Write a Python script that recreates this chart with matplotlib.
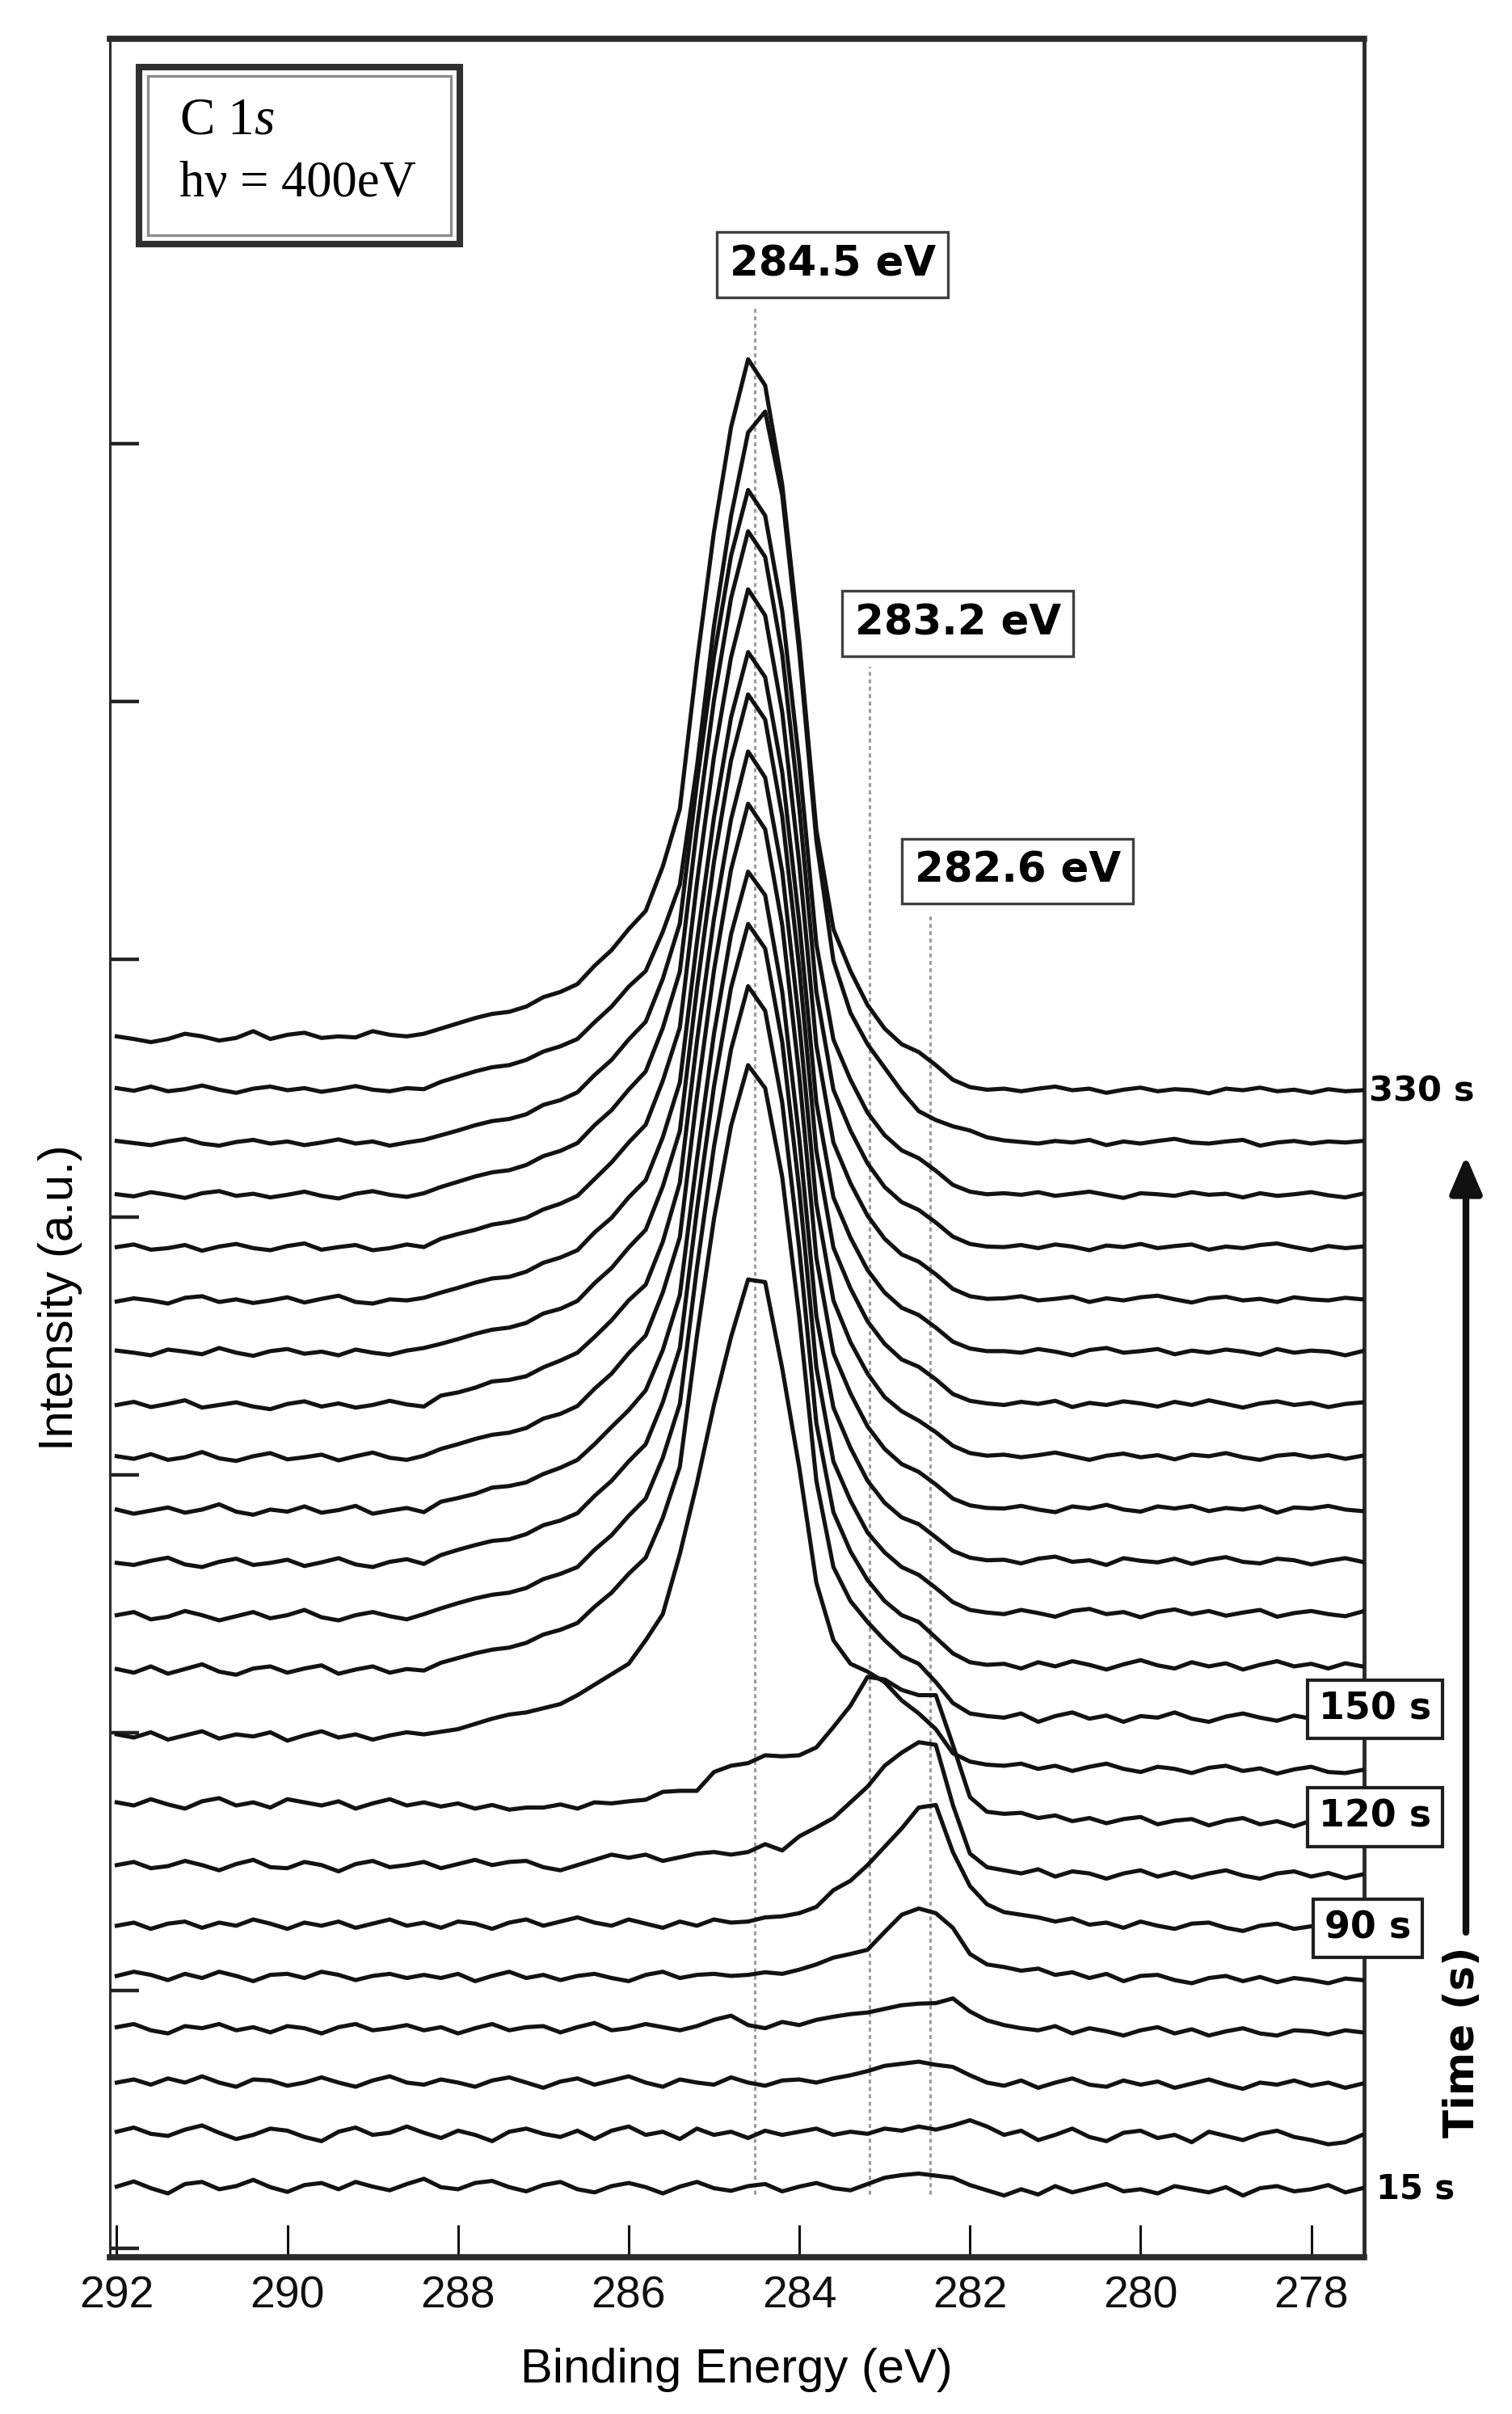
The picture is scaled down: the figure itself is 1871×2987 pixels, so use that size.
import numpy as np
import matplotlib
matplotlib.use("Agg")
import matplotlib.pyplot as plt
from matplotlib.patches import Rectangle

plt.rcParams['mathtext.fontset'] = 'custom'
plt.rcParams['mathtext.rm'] = 'Liberation Serif'
plt.rcParams['mathtext.it'] = 'Liberation Serif:italic'

# ---------------- data ----------------
energy = np.linspace(292.0, 277.4, 74)          # binding energy grid (eV), 0.2 eV step
times_s = [15, 30, 45, 60, 75, 90, 105, 120, 135, 150, 165,
           180, 195, 210, 225, 240, 255, 270, 285, 300, 315, 330]
baseline_offset = [1.3, 2.3, 3.3, 4.3, 5.3, 6.3, 7.3, 8.3, 9.3, 10.3, 11.3,
                   12.3, 13.3, 14.3, 15.3, 16.3, 17.3, 18.3, 19.3, 20.3, 21.3, 22.3]

trace_15s = [0.05, 0.15, 0.02, -0.08, 0.10, 0.14, 0.00, 0.06, 0.18, 0.04, -0.05, 0.08, 0.12, 0.00, 0.14, 0.05, -0.02, 0.10, 0.20,
             0.04, 0.00, 0.12, 0.16, 0.04, -0.04, 0.08, 0.14, 0.00, -0.06, 0.06, 0.12, 0.04, -0.08, 0.05, 0.14, 0.02, -0.03,
             0.06, 0.10, -0.04, 0.05, 0.12, 0.02, -0.02, 0.10, 0.22, 0.27, 0.30, 0.26, 0.22, 0.08, -0.02,
             -0.12, 0.00, -0.10, 0.06, -0.06, 0.02, 0.10, -0.04, 0.00, -0.08, 0.06, 0.00, -0.06, 0.04, -0.12, 0.02, 0.06, -0.04, 0.00, 0.08, -0.06, 0.02]
trace_30s = [0.10, 0.18, 0.06, 0.02, 0.14, 0.22, 0.08, -0.04, 0.04, 0.16, 0.12, 0.00, -0.08, 0.10, 0.18, 0.04, 0.08, 0.20, 0.08,
             -0.02, 0.12, 0.04, -0.08, 0.10, 0.16, 0.06, 0.00, 0.12, -0.04, 0.12, 0.20, 0.04, 0.10, -0.04, 0.16, 0.04, 0.10,
             -0.02, 0.12, 0.04, 0.10, 0.16, 0.04, 0.10, 0.06, 0.16, 0.12, 0.20, 0.14, 0.22, 0.32, 0.20,
             0.04, 0.12, -0.06, 0.04, 0.16, 0.00, -0.08, 0.08, 0.12, -0.02, 0.04, -0.10, 0.10, 0.02, -0.06, 0.06, 0.12, 0.00, -0.06, -0.14, -0.10, 0.04]
trace_45s = [0.04, 0.10, 0.00, 0.12, 0.04, 0.16, 0.04, -0.04, 0.10, 0.08, -0.02, 0.04, 0.14, 0.04, -0.04, 0.08, 0.16, 0.04, 0.00,
             0.10, 0.04, -0.04, 0.08, 0.14, 0.04, -0.06, 0.06, 0.12, 0.00, 0.08, 0.16, 0.04, -0.04, 0.10, 0.04, 0.00, 0.14,
             0.04, -0.02, 0.08, 0.10, 0.04, 0.12, 0.18, 0.26, 0.36, 0.40, 0.44, 0.38, 0.34, 0.18, 0.04,
             -0.02, 0.08, -0.06, 0.04, 0.12, 0.00, -0.04, 0.08, 0.00, 0.06, -0.06, 0.02, 0.10, 0.00, -0.08, 0.04, 0.00, 0.08, -0.02, 0.04, -0.06, 0.02]
trace_60s = [0.10, 0.16, 0.04, -0.02, 0.12, 0.08, 0.16, 0.04, 0.10, 0.00, 0.12, 0.08, -0.02, 0.10, 0.16, 0.04, 0.08, 0.14, 0.04,
             0.10, -0.02, 0.08, 0.16, 0.04, 0.10, 0.12, 0.00, 0.10, 0.18, 0.04, 0.08, 0.16, 0.10, 0.04, 0.12, 0.24, 0.32,
             0.14, 0.08, 0.20, 0.14, 0.24, 0.30, 0.35, 0.38, 0.45, 0.52, 0.55, 0.56, 0.65, 0.40, 0.23,
             0.14, 0.08, 0.04, 0.12, -0.02, 0.08, 0.02, -0.06, 0.04, 0.10, -0.02, 0.06, -0.06, 0.02, 0.08, -0.02, -0.06, 0.04, 0.02, -0.04, 0.04, 0.00]
trace_75s = [0.08, 0.16, 0.10, 0.00, 0.12, 0.04, 0.16, 0.08, -0.02, 0.10, 0.12, 0.04, 0.16, 0.10, 0.00, 0.08, 0.12, 0.04, 0.10,
             0.04, 0.12, -0.02, 0.08, 0.16, 0.04, 0.10, 0.00, 0.08, 0.12, 0.04, -0.02, 0.10, 0.16, 0.04, 0.10, 0.12, 0.08,
             0.10, 0.15, 0.12, 0.20, 0.30, 0.43, 0.50, 0.58, 0.92, 1.25, 1.37, 1.28, 1.00, 0.50, 0.30,
             0.25, 0.18, 0.22, 0.10, 0.15, 0.04, 0.12, -0.02, 0.08, 0.10, 0.00, -0.06, 0.04, 0.08, -0.02, 0.06, -0.04, 0.04, 0.00, -0.06, 0.03, 0.00]
trace_90s = [0.04, 0.10, -0.02, 0.08, 0.12, 0.00, 0.10, 0.04, 0.16, 0.08, -0.02, 0.10, 0.04, 0.12, 0.00, 0.08, 0.16, 0.04, 0.10,
             0.00, 0.12, 0.08, -0.02, 0.10, 0.16, 0.04, 0.12, 0.20, 0.10, 0.04, 0.16, 0.08, 0.00, 0.12, 0.04, 0.16, 0.10,
             0.12, 0.20, 0.22, 0.28, 0.40, 0.72, 0.90, 1.20, 1.55, 1.90, 2.30, 2.35, 1.45, 0.80, 0.45,
             0.30, 0.25, 0.20, 0.12, 0.18, 0.06, 0.10, 0.00, 0.12, 0.04, -0.02, 0.08, 0.10, 0.00, -0.06, 0.04, 0.08, -0.02, 0.03, -0.06, 0.05, 0.00]
trace_105s = [0.20, 0.26, 0.14, 0.18, 0.28, 0.20, 0.10, 0.22, 0.30, 0.16, 0.14, 0.26, 0.20, 0.08, 0.22, 0.28, 0.16, 0.20, 0.26,
              0.14, 0.22, 0.30, 0.20, 0.26, 0.28, 0.16, 0.10, 0.20, 0.30, 0.40, 0.34, 0.40, 0.28, 0.35, 0.42, 0.45, 0.40,
              0.45, 0.60, 0.48, 0.75, 0.92, 1.10, 1.40, 1.70, 2.10, 2.35, 2.55, 2.50, 1.35, 0.42, 0.16,
              0.10, 0.04, 0.12, -0.02, 0.08, 0.04, -0.06, 0.04, 0.10, -0.02, 0.06, -0.04, 0.04, 0.10, 0.00, -0.06, 0.04, 0.08, -0.02, 0.05, -0.05, 0.02]
trace_120s = [0.40, 0.34, 0.46, 0.36, 0.28, 0.42, 0.48, 0.34, 0.40, 0.30, 0.46, 0.40, 0.34, 0.42, 0.28, 0.38, 0.46, 0.34, 0.40,
              0.32, 0.38, 0.28, 0.35, 0.26, 0.30, 0.30, 0.36, 0.28, 0.40, 0.38, 0.42, 0.45, 0.60, 0.62, 0.62, 0.98, 1.10,
              1.15, 1.30, 1.28, 1.30, 1.45, 1.84, 2.25, 2.80, 2.75, 2.55, 2.45, 2.45, 1.50, 0.50, 0.22,
              0.18, 0.20, 0.10, 0.15, 0.04, 0.10, 0.00, 0.08, 0.12, -0.02, 0.05, 0.08, -0.04, 0.05, 0.10, -0.02, 0.04, -0.06, 0.05, 0.02, -0.02, 0.03]
trace_135s = [0.70, 0.64, 0.74, 0.60, 0.68, 0.76, 0.62, 0.70, 0.66, 0.74, 0.58, 0.68, 0.76, 0.64, 0.70, 0.60, 0.68, 0.74, 0.70,
              0.75, 0.80, 0.90, 1.00, 1.08, 1.12, 1.20, 1.28, 1.45, 1.65, 1.85, 2.05, 2.50, 3.00, 4.15, 5.50, 7.00, 8.30,
              9.40, 9.35, 7.70, 5.80, 3.60, 2.50, 2.05, 1.90, 1.70, 1.35, 1.10, 0.80, 0.34, 0.18, 0.12,
              0.10, 0.14, 0.04, 0.10, 0.00, 0.08, 0.14, 0.04, -0.02, 0.08, 0.04, -0.04, 0.06, 0.10, 0.00, 0.05, -0.05, 0.03, 0.08, -0.02, -0.04, 0.02]
trace_150s = [0.95, 0.88, 1.00, 0.86, 0.95, 1.04, 0.90, 0.84, 0.96, 1.00, 0.88, 0.96, 1.02, 0.86, 0.94, 1.00, 0.88, 0.95, 0.92,
              1.07, 1.16, 1.25, 1.32, 1.36, 1.45, 1.61, 1.70, 1.83, 2.14, 2.41, 2.77, 3.08, 3.84, 4.82, 7.32, 9.56, 11.34,
              12.50, 12.06, 10.36, 7.68, 4.55, 2.90, 2.25, 1.85, 1.50, 1.20, 1.05, 0.70, 0.30, 0.10, 0.05,
              0.02, 0.10, -0.06, 0.05, 0.12, 0.00, 0.06, -0.06, 0.05, 0.02, 0.12, 0.00, -0.06, 0.04, 0.10, 0.02, -0.04, 0.06, 0.00, 0.08, -0.04, 0.03]
trace_165s = [0.98, 1.04, 0.90, 0.95, 1.06, 0.98, 0.88, 0.96, 1.04, 0.92, 0.98, 1.08, 0.94, 0.88, 0.98, 1.04, 0.96, 0.90, 1.00,
              1.11, 1.21, 1.30, 1.37, 1.41, 1.50, 1.67, 1.77, 1.90, 2.23, 2.51, 2.88, 3.21, 3.99, 5.02, 7.62, 9.94, 11.80,
              13.01, 12.54, 10.78, 7.99, 4.65, 2.95, 2.20, 1.65, 1.25, 0.98, 0.85, 0.55, 0.25, 0.08, 0.03,
              0.05, -0.04, 0.08, 0.00, 0.10, 0.03, -0.06, 0.04, 0.12, 0.02, -0.04, 0.08, 0.00, 0.06, -0.06, 0.03, 0.10, 0.00, 0.05, -0.04, 0.06, 0.00]
trace_180s = [0.98, 0.94, 1.02, 1.08, 0.95, 0.90, 1.00, 1.06, 0.94, 0.98, 1.04, 0.92, 0.99, 1.07, 0.95, 0.90, 1.00, 1.05, 0.96,
              1.13, 1.23, 1.32, 1.40, 1.43, 1.53, 1.70, 1.79, 1.93, 2.26, 2.55, 2.92, 3.25, 4.05, 5.09, 7.73, 10.09, 11.98,
              13.20, 12.73, 10.94, 8.11, 4.72, 2.92, 2.17, 1.56, 1.18, 0.90, 0.75, 0.50, 0.23, 0.08, 0.03,
              0.00, 0.08, 0.02, -0.05, 0.06, 0.10, 0.00, 0.04, -0.06, 0.04, 0.09, 0.00, 0.06, -0.03, 0.03, 0.08, -0.05, 0.02, 0.06, 0.00, -0.04, 0.05]
trace_195s = [1.00, 0.92, 0.98, 1.04, 0.94, 1.00, 1.10, 0.96, 0.90, 1.00, 0.96, 1.06, 0.94, 0.99, 1.07, 0.92, 0.98, 1.03, 0.95,
              1.15, 1.22, 1.30, 1.42, 1.45, 1.52, 1.68, 1.80, 1.95, 2.25, 2.58, 2.90, 3.28, 4.05, 5.10, 7.70, 10.10, 12.00,
              13.20, 12.75, 10.90, 8.10, 4.70, 2.95, 2.18, 1.55, 1.13, 0.85, 0.72, 0.47, 0.21, 0.08, 0.03,
              0.04, -0.03, 0.06, 0.10, 0.00, 0.03, -0.06, 0.07, 0.02, -0.01, 0.06, -0.04, 0.04, 0.09, 0.00, -0.03, 0.06, 0.03, -0.05, 0.02, 0.07, 0.00]
trace_210s = [1.02, 0.97, 1.06, 0.95, 1.00, 1.10, 0.98, 0.93, 1.02, 1.08, 0.96, 1.00, 1.05, 0.94, 1.02, 1.09, 0.99, 0.95, 1.03,
              1.16, 1.25, 1.35, 1.43, 1.47, 1.56, 1.74, 1.83, 1.98, 2.31, 2.60, 2.99, 3.33, 4.15, 5.21, 7.90, 10.31, 12.24,
              13.50, 13.01, 11.18, 8.29, 4.82, 2.99, 2.22, 1.59, 1.16, 0.87, 0.72, 0.48, 0.21, 0.08, 0.03,
              0.02, 0.07, 0.00, -0.05, 0.06, 0.02, 0.09, 0.00, -0.04, 0.06, 0.02, 0.07, -0.03, 0.03, 0.00, 0.06, -0.06, 0.04, 0.02, 0.07, 0.00, -0.03]
trace_225s = [1.00, 1.06, 0.96, 1.02, 1.09, 0.95, 1.00, 1.05, 0.97, 0.92, 1.02, 1.07, 0.97, 1.03, 0.95, 1.00, 1.08, 1.01, 0.97,
              1.18, 1.24, 1.33, 1.45, 1.48, 1.55, 1.72, 1.85, 2.00, 2.30, 2.62, 3.00, 3.30, 4.12, 5.25, 7.95, 10.30, 12.20,
              13.50, 13.00, 11.20, 8.30, 4.85, 3.00, 2.20, 1.60, 1.15, 0.88, 0.70, 0.48, 0.22, 0.08, 0.03,
              0.05, 0.00, 0.04, 0.09, 0.02, -0.05, 0.03, 0.07, 0.00, 0.04, -0.04, 0.05, 0.02, 0.08, 0.00, -0.05, 0.03, 0.06, 0.00, 0.04, -0.03, 0.03]
trace_240s = [1.04, 1.00, 0.95, 1.06, 1.02, 0.97, 1.09, 1.00, 0.94, 1.03, 1.07, 0.98, 1.02, 0.95, 1.06, 1.00, 0.96, 1.04, 1.09,
              1.17, 1.26, 1.36, 1.44, 1.48, 1.57, 1.75, 1.84, 1.99, 2.33, 2.62, 3.01, 3.35, 4.18, 5.24, 7.96, 10.39, 12.33,
              13.59, 13.11, 11.26, 8.35, 4.86, 3.01, 2.23, 1.60, 1.17, 0.87, 0.73, 0.49, 0.21, 0.08, 0.03,
              0.00, 0.06, 0.02, 0.08, -0.04, 0.04, 0.00, 0.07, 0.03, -0.03, 0.06, 0.00, 0.09, 0.02, -0.05, 0.03, 0.07, 0.00, 0.04, -0.04, 0.02, 0.05]
trace_255s = [0.98, 1.04, 1.00, 0.94, 1.05, 1.08, 0.97, 1.02, 0.95, 1.00, 1.06, 0.96, 1.03, 1.09, 0.97, 0.94, 1.02, 1.00, 1.05,
              1.15, 1.24, 1.34, 1.42, 1.45, 1.55, 1.72, 1.82, 1.96, 2.30, 2.58, 2.97, 3.30, 4.12, 5.17, 7.85, 10.24, 12.15,
              13.40, 12.92, 11.10, 8.23, 4.79, 2.97, 2.20, 1.58, 1.15, 0.86, 0.72, 0.48, 0.21, 0.08, 0.03,
              0.03, 0.00, 0.07, 0.02, -0.05, 0.05, 0.09, 0.00, 0.03, 0.07, -0.03, 0.04, 0.00, 0.06, 0.02, -0.04, 0.07, 0.00, 0.04, 0.02, -0.05, 0.03]
trace_270s = [1.02, 1.07, 0.97, 1.00, 1.06, 0.95, 1.03, 1.08, 1.00, 0.96, 1.04, 1.09, 0.97, 1.02, 1.06, 0.96, 1.00, 1.07, 1.02,
              1.18, 1.27, 1.35, 1.45, 1.50, 1.58, 1.74, 1.85, 2.00, 2.32, 2.64, 3.02, 3.36, 4.20, 5.22, 7.98, 10.40, 12.30,
              13.60, 13.10, 11.25, 8.35, 4.88, 3.02, 2.24, 1.62, 1.18, 0.88, 0.74, 0.50, 0.22, 0.08, 0.03,
              0.04, 0.08, 0.00, 0.03, 0.07, -0.03, 0.04, 0.00, 0.06, 0.09, 0.02, -0.04, 0.04, 0.07, 0.00, 0.03, -0.03, 0.06, 0.02, 0.00, 0.05, 0.02]
trace_285s = [1.03, 0.99, 1.07, 1.02, 0.96, 1.05, 1.09, 1.00, 1.04, 0.97, 1.02, 1.08, 1.00, 0.95, 1.04, 1.09, 1.02, 0.98, 1.05,
              1.17, 1.27, 1.37, 1.45, 1.49, 1.59, 1.76, 1.86, 2.01, 2.35, 2.64, 3.03, 3.38, 4.21, 5.29, 8.03, 10.48, 12.43,
              13.71, 13.22, 11.36, 8.42, 4.90, 3.03, 2.25, 1.62, 1.17, 0.88, 0.73, 0.49, 0.22, 0.08, 0.03,
              0.02, 0.06, 0.00, 0.07, 0.03, -0.04, 0.05, 0.02, 0.08, 0.00, 0.04, 0.07, -0.03, 0.03, 0.00, 0.06, 0.09, 0.02, -0.04, 0.04, 0.00, 0.03]
trace_300s = [1.05, 1.01, 0.97, 1.04, 1.09, 1.00, 0.96, 1.03, 1.07, 1.00, 1.04, 0.97, 1.02, 1.08, 1.00, 1.04, 0.96, 1.02, 1.07,
              1.16, 1.25, 1.35, 1.43, 1.47, 1.56, 1.74, 1.83, 1.98, 2.31, 2.60, 2.99, 3.33, 4.15, 5.21, 7.90, 10.31, 12.24,
              13.50, 13.01, 11.18, 8.29, 4.82, 2.99, 2.22, 1.59, 1.16, 0.87, 0.72, 0.48, 0.21, 0.08, 0.03,
              0.05, 0.02, 0.07, 0.00, 0.04, 0.08, 0.02, -0.04, 0.05, 0.03, 0.00, 0.07, 0.02, 0.04, -0.03, 0.05, 0.00, 0.03, 0.07, 0.01, -0.03, 0.04]
trace_315s = [1.06, 1.01, 1.09, 1.00, 1.04, 1.11, 1.03, 0.97, 1.05, 1.09, 1.02, 1.06, 0.99, 1.04, 1.10, 1.03, 1.00, 1.06, 1.04,
              1.18, 1.28, 1.38, 1.46, 1.50, 1.60, 1.76, 1.86, 2.00, 2.32, 2.62, 3.00, 3.30, 4.05, 4.95, 7.20, 9.90, 12.00,
              13.60, 14.00, 12.40, 9.40, 5.80, 3.50, 2.50, 1.90, 1.45, 1.00, 0.62, 0.45, 0.33, 0.25, 0.12,
              0.06, 0.03, 0.00, 0.05, 0.02, 0.07, -0.03, 0.04, 0.00, 0.05, 0.09, 0.02, 0.00, 0.04, 0.07, -0.04, 0.02, 0.05, 0.00, 0.04, 0.02, 0.05]
trace_330s = [1.05, 1.00, 0.94, 1.00, 1.10, 1.05, 0.97, 1.02, 1.15, 1.00, 1.08, 1.12, 1.02, 1.05, 1.03, 1.15, 1.08, 1.05, 1.10,
              1.20, 1.30, 1.40, 1.48, 1.52, 1.62, 1.80, 1.90, 2.05, 2.40, 2.70, 3.10, 3.45, 4.30, 5.40, 8.20, 10.70, 12.70,
              14.00, 13.50, 11.60, 8.60, 5.00, 3.10, 2.30, 1.65, 1.20, 0.90, 0.75, 0.50, 0.22, 0.08, 0.03,
              0.05, 0.00, 0.05, 0.09, 0.02, 0.05, -0.03, 0.03, 0.07, 0.00, 0.04, 0.02, -0.04, 0.05, 0.02, 0.07, 0.00, 0.03, -0.03, 0.04, 0.00, 0.02]

traces = [trace_15s, trace_30s, trace_45s, trace_60s, trace_75s, trace_90s, trace_105s,
          trace_120s, trace_135s, trace_150s, trace_165s, trace_180s, trace_195s,
          trace_210s, trace_225s, trace_240s, trace_255s, trace_270s, trace_285s,
          trace_300s, trace_315s, trace_330s]

peak_line_energy = [284.52, 283.18, 282.47]
peak_line_label = ['284.5 eV', '283.2 eV', '282.6 eV']
xtick_values = [292, 290, 288, 286, 284, 282, 280, 278]
ytick_values = [0.17, 5.10, 10.03, 14.96, 19.89, 24.82, 29.75, 34.68]

# ---------------- layout ----------------
W, H = 1871, 2987
AX_L, AX_R, AX_T, AX_B = 136, 1688, 48, 2793
fig = plt.figure(figsize=(W / 100, H / 100), dpi=100)
ax = fig.add_axes([AX_L / W, 1 - AX_B / H, (AX_R - AX_L) / W, (AX_B - AX_T) / H])
ax.set_xlim(292.08, 277.38)
ax.set_ylim(0, 42.43)


def fx(px):
    return (px - AX_L) / (AX_R - AX_L)


def fy(py):
    return (AX_B - py) / (AX_B - AX_T)


# dotted reference lines
line_tops = [37.3, 30.42, 25.7]
for xe, yt in zip(peak_line_energy, line_tops):
    ax.plot([xe, xe], [1.2, yt], color='#9c9c9c', lw=2.2, ls=(0, (1.6, 1.4)), zorder=2)

# spectra
for off, tr in zip(baseline_offset, traces):
    n = min(len(tr), len(energy))
    ax.plot(energy[:n], off + np.asarray(tr[:n]), color='#121212', lw=3.7, zorder=3)

# ticks
ax.set_xticks(xtick_values)
ax.set_xticklabels([str(v) for v in xtick_values], fontsize=40, family='Liberation Sans')
ax.tick_params(axis='x', direction='in', length=29, width=2.2, pad=16, top=False, colors='#111111')
ax.set_yticks(ytick_values)
ax.set_yticklabels([])
ax.tick_params(axis='y', direction='in', length=26, width=3.2, right=False, colors='#222222')

for side, lw in [('top', 5.5), ('bottom', 5.5), ('left', 2.2), ('right', 3.5)]:
    ax.spines[side].set_linewidth(lw)
    ax.spines[side].set_color('#2a2a2a')

# axis labels
fig.text(911 / W, 1 - 2932 / H, 'Binding Energy (eV)', ha='center', va='center',
         fontsize=43, family='Liberation Sans')
fig.text(75 / W, 1 - 1606 / H, 'Intensity (a.u.)', ha='center', va='center', rotation=90,
         fontsize=43, family='Liberation Sans')

# legend box
ax.add_patch(Rectangle((fx(172), fy(302)), fx(569) - fx(172), fy(83) - fy(302),
                       transform=ax.transAxes, fill=True, fc='white', ec='#303030', lw=5.8, zorder=5))
ax.add_patch(Rectangle((fx(183), fy(291)), fx(558) - fx(183), fy(94) - fy(291),
                       transform=ax.transAxes, fill=False, ec='#8c8c8c', lw=2.4, zorder=5))
ax.text(fx(222), fy(150), r'C 1$\mathit{s}$', transform=ax.transAxes, fontsize=47,
        family='Liberation Serif', ha='left', va='center', zorder=6)
ax.text(fx(222), fy(228), 'h\u03bd = 400eV', transform=ax.transAxes, fontsize=45,
        family='Liberation Serif', ha='left', va='center', zorder=6)

# peak labels
label_pos = [(283.61, 38.11), (282.14, 31.25), (281.44, 26.51)]
for (lx, ly), txt in zip(label_pos, peak_line_label):
    ax.text(lx, ly, txt, ha='center', va='center', fontsize=37, fontweight='bold',
            family='DejaVu Sans', zorder=7,
            bbox=dict(boxstyle='square,pad=0.3', fc='white', ec='#404040', lw=2.4))

# time labels
ax.text(277.32, 22.3, '330 s', ha='left', va='center', fontsize=31, fontweight='bold',
        family='DejaVu Sans', clip_on=False, zorder=7)
ax.text(277.24, 1.3, '15 s', ha='left', va='center', fontsize=30, fontweight='bold',
        family='DejaVu Sans', clip_on=False, zorder=7)
boxed = [('150 s', 277.25, 10.48), ('120 s', 277.25, 8.42), ('90 s', 277.34, 6.29)]
for txt, bx, by in boxed:
    ax.text(bx, by, txt, ha='center', va='center', fontsize=33, fontweight='bold',
            family='DejaVu Sans', clip_on=False, zorder=8,
            bbox=dict(boxstyle='square,pad=0.3', fc='white', ec='#202020', lw=3.0))

# time arrow
ax.annotate('', xy=(1814, H - 1430), xytext=(1814, H - 2391),
            xycoords='figure pixels', textcoords='figure pixels', annotation_clip=False,
            arrowprops=dict(arrowstyle='-|>,head_length=0.7,head_width=0.3', mutation_scale=40,
                            lw=6, color='#111111', shrinkA=0, shrinkB=0))
fig.text(1810 / W, 1 - 2527 / H, 'Time (s)', rotation=90, ha='center', va='center',
         fontsize=37, fontweight='bold', family='DejaVu Sans')

fig.savefig('out.png', dpi=100)
